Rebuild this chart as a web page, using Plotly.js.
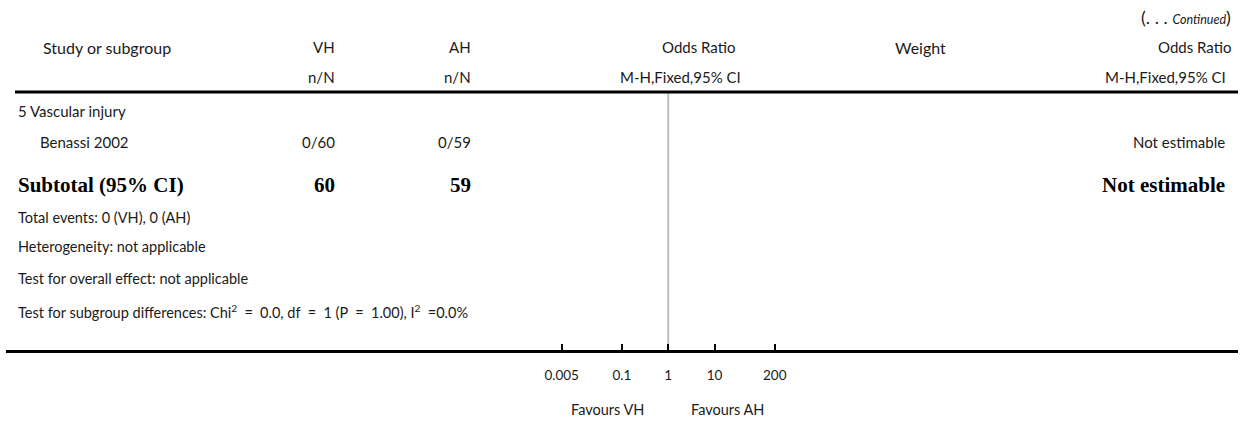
<!DOCTYPE html>
<html>
<head>
<meta charset="utf-8">
<script src="https://cdn.plot.ly/plotly-3.0.1.min.js"></script>
<style>
  html, body { margin: 0; padding: 0; background: #fff; }
  #chart { width: 1248px; height: 421px; }
</style>
</head>
<body>
<div id="chart"></div>
<script>
// ---- Data ----
const headerRow1 = ["Study or subgroup", "VH", "AH", "Odds Ratio", "Weight", "Odds Ratio"];
const headerRow2 = ["", "n/N", "n/N", "M-H,Fixed,95% CI", "", "M-H,Fixed,95% CI"];
const subgroupTitle = "5 Vascular injury";
const studies = ["Benassi 2002"];
const vhEventsN = ["0/60"];
const ahEventsN = ["0/59"];
const studyResult = ["Not estimable"];
const subtotalLabel = "Subtotal (95% CI)";
const subtotalVH = [60];
const subtotalAH = [59];
const subtotalResult = ["Not estimable"];
const footnotes = [
  "Total events: 0 (VH), 0 (AH)",
  "Heterogeneity: not applicable",
  "Test for overall effect: not applicable",
  "Test for subgroup differences: Chi<sup>2</sup>\u2002=\u20020.0, df\u2002=\u20021 (P\u2002=\u20021.00), I<sup>2</sup>\u2002=0.0%"
];
const tickVals = [0.005, 0.1, 1, 10, 200];
const tickText = ["0.005", "0.1", "1", "10", "200"];
const nullLineX = [1, 1];
const nullLineY = [0, 1];
const favours = ["Favours VH", "Favours AH"];

// ---- Layout helpers ----
const W = 1248, H = 421;
const px = v => v / W;
const py = v => 1 - v / H;
const FONT = "Lato, 'Open Sans', sans-serif";
const SERIF = "'Liberation Serif', 'DejaVu Serif', serif";
const TXT = "#1a1a1a";

function ann(text, x, y, anchor, opts) {
  opts = opts || {};
  return {
    text: text, xref: "paper", yref: "paper",
    x: px(x), y: py(y), xanchor: anchor, yanchor: "middle",
    showarrow: false,
    font: {family: opts.family || FONT, size: opts.size || 15, color: opts.color || TXT}
  };
}

const colVH = 337, colAH = 473, colPlotR = 741, colWeight = 920, colRight = 1230;
const annotations = [];
annotations.push(ann("(<span style='font-size:18px'>. . .</span> <i><span style='font-size:12.5px'>Continued</span></i>)", colRight + 3, 17, "right", {size: 18}));
// header row 1
annotations.push(ann(headerRow1[0], 107, 47, "center", {size: 16}));
annotations.push(ann(headerRow1[1], colVH, 47, "right"));
annotations.push(ann(headerRow1[2], colAH, 47, "right"));
annotations.push(ann(headerRow1[3], colPlotR - 4, 47, "right"));
annotations.push(ann(headerRow1[4], colWeight, 47, "center", {size: 16}));
annotations.push(ann(headerRow1[5], colRight + 3, 47, "right"));
// header row 2
annotations.push(ann(headerRow2[1], colVH, 77, "right"));
annotations.push(ann(headerRow2[2], colAH, 77, "right"));
annotations.push(ann(headerRow2[3], colPlotR + 2, 77, "right"));
annotations.push(ann(headerRow2[5], colRight - 2, 77, "right"));
// subgroup
annotations.push(ann(subgroupTitle, 16, 111, "left"));
studies.forEach((s, i) => {
  const y = 142 + i * 30;
  annotations.push(ann(s, 38, y, "left"));
  annotations.push(ann(vhEventsN[i], colVH, y, "right"));
  annotations.push(ann(ahEventsN[i], colAH, y, "right"));
  annotations.push(ann(studyResult[i], colRight - 3, y, "right"));
});
const B = {family: SERIF, size: 21, color: "#000"};
annotations.push(ann("<b>" + subtotalLabel + "</b>", 16, 185, "left", B));
annotations.push(ann("<b>" + subtotalVH[0] + "</b>", colVH, 185, "right", B));
annotations.push(ann("<b>" + subtotalAH[0] + "</b>", colAH, 185, "right", B));
annotations.push(ann("<b>" + subtotalResult[0] + "</b>", colRight - 3, 185, "right", B));
const footY = [217, 247, 278, 311];
footnotes.forEach((f, i) => annotations.push(ann(f, 16, footY[i], "left", {size: 14.5})));
// favours
annotations.push(ann(favours[0], 607, 409, "center", {size: 14.5}));
annotations.push(ann(favours[1], 727, 409, "center", {size: 14.5}));

// log axis calibration
const center = 668.2, perDec = 46.3;
const xL = 6, xR = 1238, yTop = 93, yBot = 350;
const range = [(xL - center) / perDec, (xR - center) / perDec];

const traces = [{
  x: nullLineX, y: nullLineY, type: "scatter", mode: "lines",
  line: {color: "#bdbdbd", width: 2}, hoverinfo: "skip", showlegend: false
}];

const layout = {
  width: W, height: H,
  margin: {l: 0, r: 0, t: 0, b: 0, pad: 0},
  paper_bgcolor: "#fff", plot_bgcolor: "rgba(0,0,0,0)",
  showlegend: false,
  xaxis: {
    type: "log", range: range, domain: [px(xL), px(xR)],
    showgrid: false, zeroline: false,
    showline: true, linecolor: "#000", linewidth: 3,
    ticks: "inside", ticklen: 6, tickwidth: 2, tickcolor: "#000",
    tickvals: tickVals, ticktext: tickText,
    tickfont: {family: FONT, size: 13.5, color: TXT},
    ticklabelstandoff: 11,
    fixedrange: true
  },
  yaxis: {
    range: [0, 1], domain: [py(yBot), py(yTop)],
    visible: false, fixedrange: true
  },
  shapes: [{
    type: "line", xref: "paper", yref: "paper",
    x0: px(15), x1: px(1238), y0: py(92), y1: py(92),
    line: {color: "#000", width: 3}
  }],
  annotations: annotations
};

Plotly.newPlot("chart", traces, layout, {displayModeBar: false, staticPlot: true});
</script>
</body>
</html>
